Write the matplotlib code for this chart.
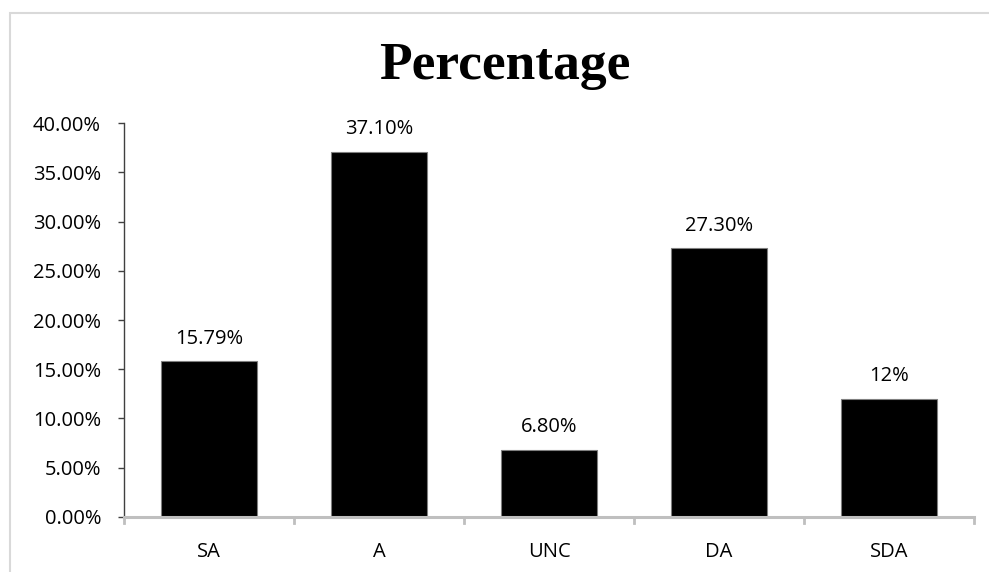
import matplotlib.pyplot as plt
from matplotlib.patches import Rectangle

categories = ['SA', 'A', 'UNC', 'DA', 'SDA']
values = [15.79, 37.10, 6.80, 27.30, 12.0]
value_labels = ['15.79%', '37.10%', '6.80%', '27.30%', '12%']
yticks = [0, 5, 10, 15, 20, 25, 30, 35, 40]

W, H = 989, 572
fig = plt.figure(figsize=(W / 100, H / 100), dpi=100)

# light grey chart-area border (only top and left show)
fig.patches.append(Rectangle((10 / W, -0.2), 1.2, 0.2 + 1 - 13 / H,
                             transform=fig.transFigure, fill=False,
                             edgecolor='#d9d9d9', linewidth=1.5))

ax = fig.add_axes([124 / W, 1 - 516.7 / H, (974 - 124) / W, (516.7 - 123.3) / H])

x = range(len(categories))
bars = ax.bar(x, values, width=0.56, color='black', edgecolor='#7f7f7f',
              linewidth=0.8, zorder=2)

for b, lab in zip(bars, value_labels):
    ax.annotate(lab, (b.get_x() + b.get_width() / 2, b.get_height()),
                xytext=(0, 9), textcoords='offset points',
                ha='center', va='bottom', fontsize=14.5, family='Open Sans')

ax.set_xlim(-0.5, len(categories) - 0.5)
ax.set_ylim(0, 40)
ax.set_yticks(yticks)
ax.set_yticklabels(['%.2f%%' % v for v in yticks], fontsize=14.5, family='Open Sans')
ax.set_xticks(list(x))
ax.set_xticklabels(categories, fontsize=14.5, family='Open Sans')
ax.tick_params(axis='x', length=0, pad=18)
ax.tick_params(axis='y', length=4.5, width=1, color='#404040', pad=12)

# category boundary ticks below the x axis
for xb in [i - 0.5 for i in range(len(categories) + 1)]:
    ax.plot([xb, xb], [0, -0.6], color='#bfbfbf', linewidth=2,
            clip_on=False, zorder=1)

for s in ['top', 'right']:
    ax.spines[s].set_visible(False)
ax.spines['left'].set_color('#404040')
ax.spines['left'].set_linewidth(1)
ax.spines['bottom'].set_color('#bfbfbf')
ax.spines['bottom'].set_linewidth(2.2)

fig.text(505 / W, 1 - 79 / H, 'Percentage', ha='center', va='baseline',
         fontsize=38.5, fontweight='bold', family='Liberation Serif')

fig.savefig('out.png', dpi=100)
